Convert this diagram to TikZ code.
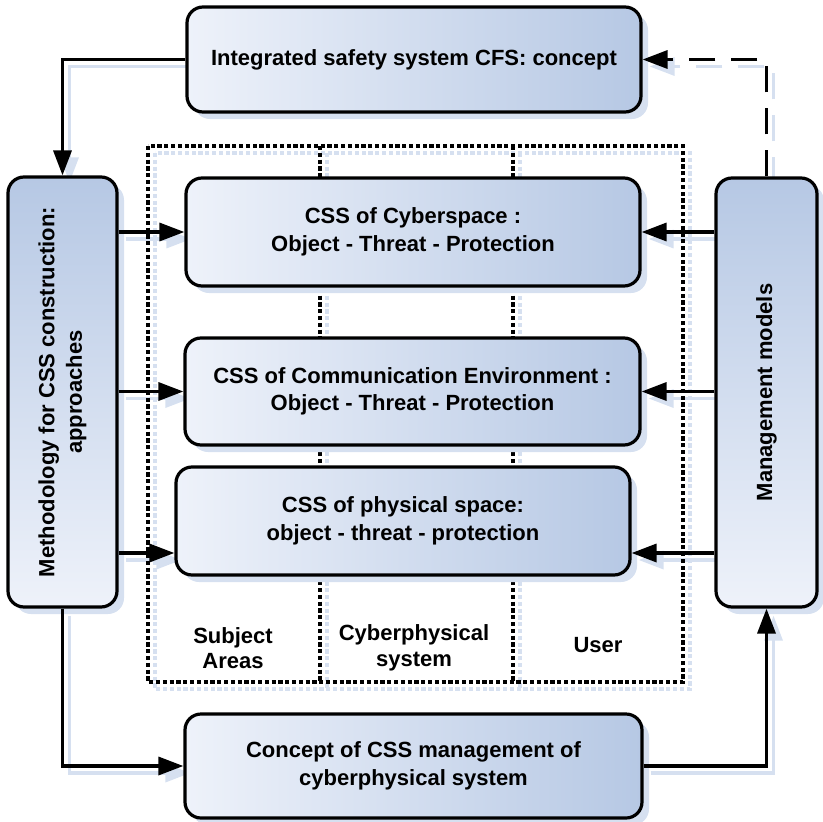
\documentclass[tikz,border=0pt]{standalone}
\usepackage{fontspec}
\setmainfont{Liberation Sans}
\usepackage{graphicx}
\usetikzlibrary{arrows.meta,shadows}
\definecolor{boxlight}{RGB}{238,242,250}
\definecolor{boxdark}{RGB}{182,200,228}
\definecolor{shadowc}{RGB}{214,224,240}
\pgfdeclarelayer{bg}
\pgfsetlayers{bg,main}
\tikzset{
  box/.style={draw=black, line width=3.2pt, rounded corners=16pt, inner sep=0pt,
    align=center, font=\fontsize{22}{27.5}\selectfont\bfseries,
    drop shadow={shadow xshift=7pt, shadow yshift=-7pt, fill=shadowc, opacity=1}},
  hbox/.style={box, left color=boxlight, right color=boxdark},
  vbox/.style={box, bottom color=boxlight, top color=boxdark},
  conn/.style={line width=3.4pt, -{Triangle[length=25pt,width=18pt]}},
  longdash/.style={dash pattern=on 26pt off 16pt},
  lbl/.style={align=center, font=\fontsize{22}{25.5}\selectfont\bfseries},
}
\newcommand{\myconnectors}{%
  \draw[conn] (top.west) -| (left.north);
  \draw[conn] (left.east |- cyber.west) -- (cyber.west);
  \draw[conn] (left.east |- comm.west) -- (comm.west);
  \draw[conn] (left.east |- py) -- (phys.west |- py);
  \draw[conn] (mgmt.west |- cyber.east) -- (cyber.east);
  \draw[conn] (mgmt.west |- comm.east) -- (comm.east);
  \draw[conn] (mgmt.west |- py) -- (phys.east |- py);
  \draw[conn, longdash] (mgmt.north) |- (top.east);
  \draw[conn] (left.south) |- (bottom.west);
  \draw[conn] (bottom.east) -| (mgmt.south);
}
\newcommand{\mydotrect}[1]{%
  \draw[#1, line width=3.2pt, line cap=butt, dash pattern=on 4.2pt off 2.6pt] (148,-146) rectangle (683,-682);
  \draw[#1, line width=3.2pt, line cap=butt, dash pattern=on 4.2pt off 2.6pt] (320,-146) -- (320,-682);
  \draw[#1, line width=3.2pt, line cap=butt, dash pattern=on 4.2pt off 2.6pt] (513,-146) -- (513,-682);
}
\begin{document}
\begin{tikzpicture}[x=1pt,y=1pt]
\useasboundingbox (0,0) rectangle (822,-822);
% dotted frame (shadow + frame)
\begin{pgfonlayer}{bg}
  \begin{scope}[shift={(7,-7)}]
    \mydotrect{shadowc}
  \end{scope}
\end{pgfonlayer}
\mydotrect{black}
\node[lbl] (lsub) at (233,-648) {Subject\\Areas};
\node[lbl] (lcps) at (414,-648) {Cyberphysical\\system};
\node[lbl] (luser) at (598,-645) {User};
% boxes
\node[hbox, minimum width=454pt, minimum height=105pt] (top) at (414,-59.5) {Integrated safety system CFS: concept};
\node[vbox, minimum width=109pt, minimum height=430pt] (left) at (62.5,-392)
  {\rotatebox{90}{\begin{tabular}{@{}c@{}}Methodology for CSS construction:\\approaches\end{tabular}}};
\node[vbox, minimum width=101pt, minimum height=429pt] (mgmt) at (766.5,-392.5)
  {\rotatebox{90}{Management models}};
\node[hbox, minimum width=454pt, minimum height=108pt] (cyber) at (413,-232) {CSS of Cyberspace :\\Object - Threat - Protection};
\node[hbox, minimum width=455pt, minimum height=107pt] (comm) at (412.5,-391.5) {CSS of Communication Environment :\\Object - Threat - Protection};
\node[hbox, minimum width=454pt, minimum height=108pt] (phys) at (403,-521) {CSS of physical space:\\object - threat - protection};
\node[hbox, minimum width=457pt, minimum height=104pt] (bottom) at (413.5,-766) {Concept of CSS management of\\cyberphysical system};
\coordinate (py) at (0,-553);
% connector shadows
\begin{pgfonlayer}{bg}
  \begin{scope}[transform canvas={shift={(7pt,-7pt)}}, color=shadowc]
    \myconnectors
  \end{scope}
\end{pgfonlayer}
\myconnectors
\end{tikzpicture}
\end{document}
